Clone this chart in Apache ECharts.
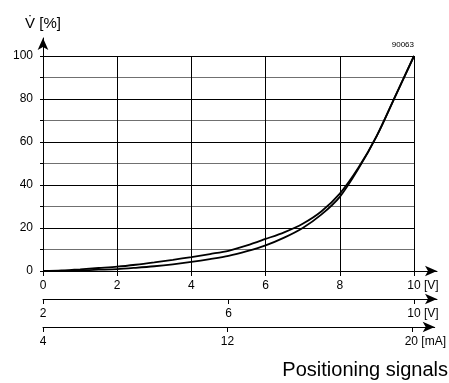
<!DOCTYPE html>
<html><head><meta charset="utf-8">
<script src="https://cdn.jsdelivr.net/npm/echarts@6/dist/echarts.min.js"></script>
<style>html,body{margin:0;padding:0;background:#fff}#c{width:449px;height:383px}</style>
</head><body><div id="c"></div>
<script>
// ---- data ----
const xPos = [0, 0.5, 1, 1.5, 2, 2.5, 3, 3.5, 4, 4.5, 5, 5.5, 6, 6.5, 7, 7.5, 8, 8.5, 9, 9.5, 10];
const upperFlow = [0, 0.3, 0.8, 1.4, 2.0, 2.9, 4.0, 5.2, 6.5, 7.9, 9.4, 11.9, 14.9, 18.0, 22.0, 27.7, 36.0, 48.0, 63.0, 81.5, 100];
const lowerFlow = [0, 0.1, 0.3, 0.6, 0.9, 1.5, 2.2, 3.1, 4.2, 5.5, 7.0, 9.2, 11.9, 15.5, 20.0, 26.2, 34.5, 47.5, 63.0, 81.5, 100];
const voltTicks = [0, 2, 4, 6, 8, 10];
const volt2Ticks = [2, 6, 10];
const mATicks = [4, 12, 20];
const yTicks = [0, 20, 40, 60, 80, 100];

const FONT = 'Liberation Sans, Arial, sans-serif';
const L = 43, W = 371, WX = 394, T = 56, H = 215;
const ext = WX / W;

const chart = echarts.init(document.getElementById('c'), null, {renderer: 'canvas'});
const lab = {fontFamily: FONT, fontSize: 12, color: '#000'};
const hidden = {show: false};
function unitLabel(v, maxV, unit) {
  return v === maxV ? '{n|' + v + '}{u| ' + unit + '}' : String(v);
}
const rich = (padL) => ({n: {fontFamily: FONT, fontSize: 12, color: '#000', padding: [0, 0, 0, padL]}, u: {fontFamily: FONT, fontSize: 12, color: '#000'}});

chart.setOption({
  animation: false,
  backgroundColor: '#fff',
  title: [
    {text: '90063', right: 35, top: 41, padding: 0, textStyle: {fontFamily: FONT, fontSize: 8, fontWeight: 'normal', color: '#000'}},
    {text: 'Positioning signals', right: 1, top: 360, padding: 0, textStyle: {fontFamily: FONT, fontSize: 20, fontWeight: 'normal', color: '#000'}}
  ],
  grid: [
    {left: L, top: T, width: W, height: H},
    {left: L, top: T, width: WX, height: H},
    {left: L, top: 38, width: W, height: 233},
    {left: L, top: 290, width: WX, height: 9},
    {left: L, top: 318, width: WX, height: 9}
  ],
  xAxis: [
    {gridIndex: 0, type: 'value', min: 0, max: 10, interval: 2,
     axisLine: {show: true, lineStyle: {color: '#000', width: 1}},
     axisTick: {show: true, length: 5, lineStyle: {color: '#000'}},
     axisLabel: {...lab, margin: 9, customValues: voltTicks, formatter: v => unitLabel(v, 10, '[V]'), rich: rich(18)},
     splitLine: {show: true, lineStyle: {color: '#000', width: 1}}},
    {gridIndex: 1, type: 'value', min: 0, max: 10 * ext,
     axisLine: {show: true, symbol: ['none', 'arrow'], symbolSize: [8, 12], lineStyle: {color: '#000', width: 1}},
     axisTick: hidden, axisLabel: hidden, splitLine: hidden},
    {gridIndex: 2, type: 'value', min: 0, max: 10, show: false},
    {gridIndex: 3, type: 'value', min: 2, max: 2 + 8 * ext,
     axisLine: {show: true, symbol: ['none', 'arrow'], symbolSize: [8, 12], lineStyle: {color: '#000', width: 1}},
     axisTick: {show: true, length: 5, customValues: volt2Ticks, lineStyle: {color: '#000'}},
     axisLabel: {...lab, margin: 9, customValues: volt2Ticks, formatter: v => unitLabel(v, 10, '[V]'), rich: rich(18)},
     splitLine: hidden},
    {gridIndex: 4, type: 'value', min: 4, max: 4 + 16 * ext,
     axisLine: {show: true, symbol: ['none', 'arrow'], symbolSize: [8, 12], lineStyle: {color: '#000', width: 1}},
     axisTick: {show: true, length: 5, customValues: mATicks, lineStyle: {color: '#000'}},
     axisLabel: {...lab, margin: 9, customValues: mATicks, formatter: v => unitLabel(v, 20, '[mA]'), rich: rich(27)},
     splitLine: hidden}
  ],
  yAxis: [
    {gridIndex: 0, type: 'value', min: 0, max: 100, interval: 10,
     axisLine: {show: true, lineStyle: {color: '#000'}},
     axisTick: {show: true, length: 3, lineStyle: {color: '#000'}},
     axisLabel: {...lab, margin: 10, formatter: v => (yTicks.indexOf(v) >= 0 ? String(v) : '')},
     splitLine: {show: true, lineStyle: {color: ['#000', '#707070'], width: 1}}},
    {gridIndex: 1, type: 'value', min: 0, max: 100, show: false},
    {gridIndex: 2, type: 'value', min: 0, max: 100 * 233 / 215,
     name: 'V\u0307 [%]', nameLocation: 'end', nameGap: 7,
     nameTextStyle: {fontFamily: FONT, fontSize: 15, color: '#000', align: 'center'},
     axisLine: {show: true, symbol: ['none', 'arrow'], symbolSize: [8, 12], lineStyle: {color: '#000', width: 1}},
     axisTick: hidden, axisLabel: hidden, splitLine: hidden},
    {gridIndex: 3, type: 'value', show: false},
    {gridIndex: 4, type: 'value', show: false}
  ],
  series: [
    {type: 'line', xAxisIndex: 0, yAxisIndex: 0, data: xPos.map((x, i) => [x, upperFlow[i]]),
     smooth: 0.3, showSymbol: false, lineStyle: {color: '#000', width: 1.8}},
    {type: 'line', xAxisIndex: 0, yAxisIndex: 0, data: xPos.map((x, i) => [x, lowerFlow[i]]),
     smooth: 0.3, showSymbol: false, lineStyle: {color: '#000', width: 1.8}}
  ]
});
</script></body></html>
